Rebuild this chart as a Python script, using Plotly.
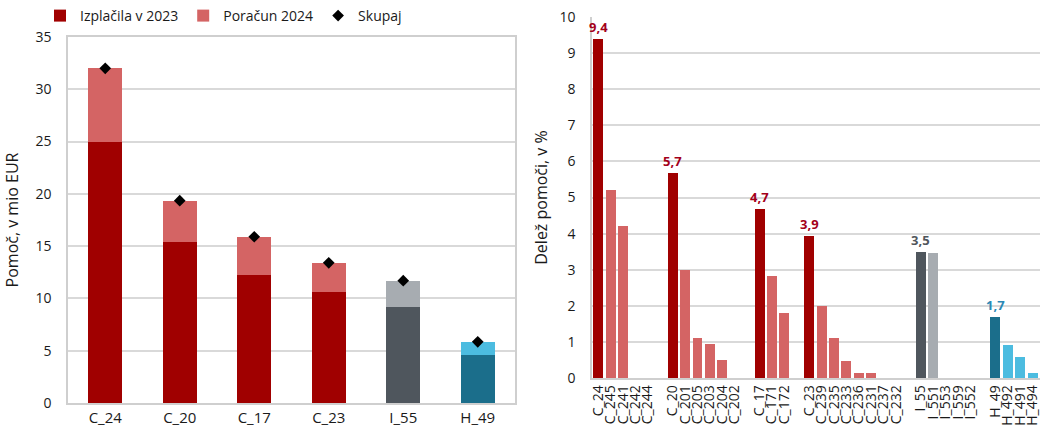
import plotly.graph_objects as go

# ---------------- Left chart data ----------------
left_cats = ["C_24", "C_20", "C_17", "C_23", "I_55", "H_49"]
izplacila_2023 = [25.0, 15.4, 12.2, 10.6, 9.15, 4.55]
poracun_2024 = [7.0, 3.95, 3.7, 2.8, 2.55, 1.3]
skupaj = [32.0, 19.35, 15.9, 13.4, 11.7, 5.85]

# ---------------- Right chart data ----------------
grp_c24_labels = ["C_24", "C_245", "C_241", "C_242", "C_244"]
grp_c24_values = [9.4, 5.2, 4.2, 0, 0]
grp_c20_labels = ["C_20", "C_201", "C_205", "C_203", "C_204", "C_202"]
grp_c20_values = [5.67, 2.98, 1.1, 0.95, 0.5, 0]
grp_c17_labels = ["C_17", "C_171", "C_172"]
grp_c17_values = [4.67, 2.83, 1.8]
grp_c23_labels = ["C_23", "C_239", "C_235", "C_233", "C_236", "C_231", "C_237", "C_232"]
grp_c23_values = [3.92, 2.0, 1.1, 0.48, 0.13, 0.13, 0, 0]
grp_i55_labels = ["I_55", "I_551", "I_553", "I_559", "I_552"]
grp_i55_values = [3.5, 3.45, 0, 0, 0]
grp_h49_labels = ["H_49", "H_492", "H_491", "H_494", "H_493"]
grp_h49_values = [1.7, 0.92, 0.57, 0.13, 0.04]

# ---------------- Styles ----------------
RED, PINK = "#A00000", "#D46464"
SLATE, LGRAY = "#4F565D", "#A7ACB1"
TEAL, LBLUE = "#1B6E8B", "#4CBCE0"
lead_colors = [RED, RED, RED, RED, SLATE, TEAL]
sub_colors = [PINK, PINK, PINK, PINK, LGRAY, LBLUE]
label_colors = ["#A3001A", "#A3001A", "#A3001A", "#A3001A", "#50565C", "#2B88B5"]

FONT = "Open Sans"
GRID = "#D9D9D9"
FRAME = "#CFCFCF"
TXT = "#1A1A1A"

W, H = 1040, 429


def px_x(x):
    return x / W


def px_y(y):
    return (H - y) / H


groups = [
    (grp_c24_labels, grp_c24_values),
    (grp_c20_labels, grp_c20_values),
    (grp_c17_labels, grp_c17_values),
    (grp_c23_labels, grp_c23_values),
    (grp_i55_labels, grp_i55_values),
    (grp_h49_labels, grp_h49_values),
]

r_cats, r_vals, r_cols = [], [], []
annotations = []
for gi, (labs, vals) in enumerate(groups):
    for j, (lab, v) in enumerate(zip(labs, vals)):
        r_cats.append(lab)
        r_vals.append(v)
        r_cols.append(lead_colors[gi] if j == 0 else sub_colors[gi])
        if j == 0:
            annotations.append(dict(
                x=lab, y=v, xref="x2", yref="y2",
                text=f"{v:.1f}".replace(".", ","), showarrow=False,
                yanchor="bottom", xanchor="center", yshift=1,
                font=dict(color=label_colors[gi], size=13, family=FONT, weight="bold"),
            ))
    if gi < len(groups) - 1:
        r_cats.append(" " * (gi + 1))
        r_vals.append(None)
        r_cols.append("#FFFFFF")

fig = go.Figure()

fig.add_trace(go.Bar(
    x=left_cats, y=izplacila_2023, name="Izplačila v 2023",
    marker=dict(color=lead_colors, line=dict(width=0)),
    width=0.46, xaxis="x", yaxis="y",
))
fig.add_trace(go.Bar(
    x=left_cats, y=poracun_2024, name="Poračun 2024",
    marker=dict(color=sub_colors, line=dict(width=0)),
    width=0.46, xaxis="x", yaxis="y",
))
fig.add_trace(go.Scatter(
    x=left_cats, y=skupaj, name="Skupaj", mode="markers",
    marker=dict(symbol="diamond", color="black", size=9),
    xaxis="x", yaxis="y",
))

fig.add_trace(go.Bar(
    x=r_cats, y=r_vals, showlegend=False,
    marker=dict(color=r_cols, line=dict(width=0)),
    width=0.8, xaxis="x2", yaxis="y2",
))

fig.update_layout(
    width=W, height=H,
    margin=dict(l=0, r=0, t=0, b=0),
    paper_bgcolor="white", plot_bgcolor="white",
    barmode="stack",
    font=dict(family=FONT, size=14, color=TXT),
    showlegend=True,
    annotations=annotations,
    legend=dict(
        orientation="h", traceorder="normal",
        x=px_x(40), xanchor="left", y=px_y(16), yanchor="middle",
        font=dict(size=14, color=TXT), bgcolor="rgba(0,0,0,0)",
        itemwidth=30, tracegroupgap=0,
    ),
    xaxis=dict(
        domain=[px_x(68), px_x(515)], anchor="y",
        type="category", range=[-0.5, 5.5],
        showline=True, linecolor=FRAME, linewidth=1.5, mirror=True,
        showgrid=False, ticks="", tickfont=dict(size=15, color=TXT),
        automargin=False, fixedrange=True,
    ),
    yaxis=dict(
        domain=[px_y(403), px_y(37)], anchor="x",
        range=[0, 35], dtick=5, tick0=0,
        showline=True, linecolor=FRAME, linewidth=1.5, mirror=True,
        showgrid=True, gridcolor=GRID, gridwidth=1.5, zeroline=False,
        ticks="", ticklabelstandoff=12, tickfont=dict(size=14, color=TXT),
        title=dict(text="Pomoč, v mio EUR", font=dict(size=16, color=TXT), standoff=13),
        automargin=False,
    ),
    xaxis2=dict(
        domain=[px_x(592), 1.0], anchor="y2",
        type="category", range=[-0.5, 35.6],
        tickmode="linear", dtick=1, tickangle=-90,
        showline=True, linecolor=FRAME, linewidth=1.5,
        showgrid=False, ticks="", tickfont=dict(size=14, color=TXT),
        automargin=False,
    ),
    yaxis2=dict(
        domain=[px_y(378), px_y(17)], anchor="x2",
        range=[0, 10], dtick=1, tick0=0,
        showline=True, linecolor=FRAME, linewidth=1.5,
        showgrid=True, gridcolor=GRID, gridwidth=1.5, zeroline=False,
        ticks="", ticklabelstandoff=12, tickfont=dict(size=14, color=TXT),
        title=dict(text="Delež pomoči, v %", font=dict(size=16, color=TXT), standoff=8),
        automargin=False,
    ),
)

fig.write_html(
    "out.html",
    config={"displayModeBar": False},
    post_script="document.body.style.margin='0';",
)
